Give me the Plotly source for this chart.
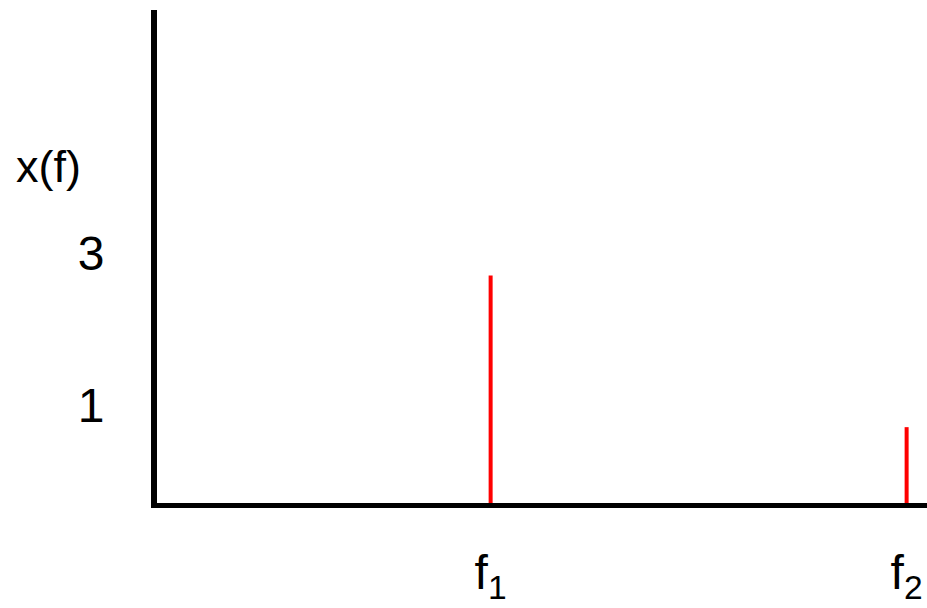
import plotly.graph_objects as go

# Line spectrum: two frequency components and their amplitudes
freq_pos = [1, 2]
freq_labels = ["f<sub>1</sub>", "f<sub>2</sub>"]
amplitudes = [3, 1]
amp_ticks = [3, 1]
amp_tick_labels = ["3", "1"]

# build stems as vertical line segments separated by gaps
stem_x, stem_y = [], []
for f, a in zip(freq_pos, amplitudes):
    stem_x += [f, f, None]
    stem_y += [0, a, None]

fig = go.Figure()
fig.add_trace(go.Scatter(
    x=stem_x, y=stem_y, mode="lines",
    line=dict(color="#ff0000", width=4),
    hoverinfo="skip", showlegend=False,
))

font_family = "Liberation Sans, Arial, sans-serif"

fig.update_layout(
    width=927, height=608,
    margin=dict(l=157, r=0, t=10, b=105, autoexpand=False),
    paper_bgcolor="white", plot_bgcolor="white",
    font=dict(family=font_family, color="black"),
    xaxis=dict(
        range=[0.198, 2.049], automargin=False,
        showgrid=False, zeroline=False,
        showline=True, linecolor="black", linewidth=5,
        tickmode="array", tickvals=freq_pos, ticktext=freq_labels,
        ticks="outside", ticklen=23, tickcolor="rgba(0,0,0,0)",
        tickfont=dict(size=48, family=font_family, color="black"),
    ),
    yaxis=dict(
        range=[0, 6.5], automargin=False,
        showgrid=False, zeroline=False,
        showline=True, linecolor="black", linewidth=6,
        tickmode="array", tickvals=amp_ticks, ticktext=amp_tick_labels,
        ticks="outside", ticklen=37, tickcolor="rgba(0,0,0,0)",
        ticklabelshift=-22,
        tickfont=dict(size=48, family=font_family, color="black"),
    ),
    annotations=[dict(
        text="x(f)", xref="paper", yref="paper",
        x=(48 - 157) / 770, y=(503 - 166.5) / 493,
        xanchor="center", yanchor="middle", showarrow=False,
        font=dict(size=45, family=font_family, color="black"),
    )],
)

fig.write_html("out.html")
